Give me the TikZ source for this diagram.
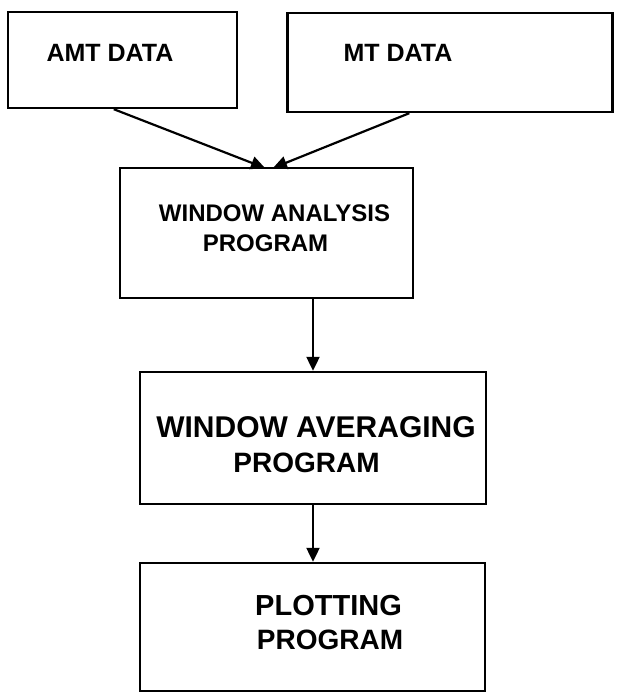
\documentclass[tikz,border=0pt]{standalone}
\usepackage{fontspec}
\setmainfont{Liberation Sans}
\usetikzlibrary{arrows.meta}
\begin{document}
\begin{tikzpicture}[x=1pt,y=-1pt,
  box/.style={draw, line width=2.4pt, inner sep=0pt, rectangle},
  lbl/.style={inner sep=0pt, anchor=center, font=\bfseries},
  conn/.style={line width=2.2pt, -{Triangle[length=14pt,width=13pt]}}]
\useasboundingbox (0,0) rectangle (616,693);
% boxes
\node[box, minimum width=229pt, minimum height=96pt] (amt) at (122.5,60) {};
\node[box, minimum width=325pt, minimum height=99pt] (mt) at (450,62.5) {};
\node[box, minimum width=293pt, minimum height=130pt] (wa) at (266.5,233) {};
\node[box, minimum width=346pt, minimum height=132pt] (wav) at (313,438) {};
\node[box, minimum width=345pt, minimum height=128pt] (plot) at (312.5,627) {};
% texts
\node[lbl, font=\fontsize{25}{25}\selectfont\bfseries] (tamt) at (110,53) {AMT DATA};
\node[lbl, font=\fontsize{25}{25}\selectfont\bfseries] (tmt) at (398,53) {MT DATA};
\node[lbl, font=\fontsize{24}{24}\selectfont\bfseries] (twa1) at (274.5,213) {WINDOW ANALYSIS};
\node[lbl, font=\fontsize{24}{24}\selectfont\bfseries] (twa2) at (265.5,243) {PROGRAM};
\node[lbl, font=\fontsize{30}{30}\selectfont\bfseries] (twav1) at (316,427) {WINDOW AVERAGING};
\node[lbl, font=\fontsize{28}{28}\selectfont\bfseries] (twav2) at (306.5,463) {PROGRAM};
\node[lbl, font=\fontsize{29}{29}\selectfont\bfseries] (tpl1) at (328.5,606) {PLOTTING};
\node[lbl, font=\fontsize{28}{28}\selectfont\bfseries] (tpl2) at (330,640) {PROGRAM};
% connectors
\coordinate (wainA) at (265,168);
\coordinate (wainB) at (273,168);
\draw[conn] (amt.south west) ++(107,0) coordinate (amtout) -- (wainA);
\draw[conn] (mt.south west) ++(123,0) coordinate (mtout) -- (wainB);
\draw[conn] (wa.south -| wav.north) -- (wav.north);
\draw[conn] (wav.south) -- (wav.south |- plot.north);
\end{tikzpicture}
\end{document}
